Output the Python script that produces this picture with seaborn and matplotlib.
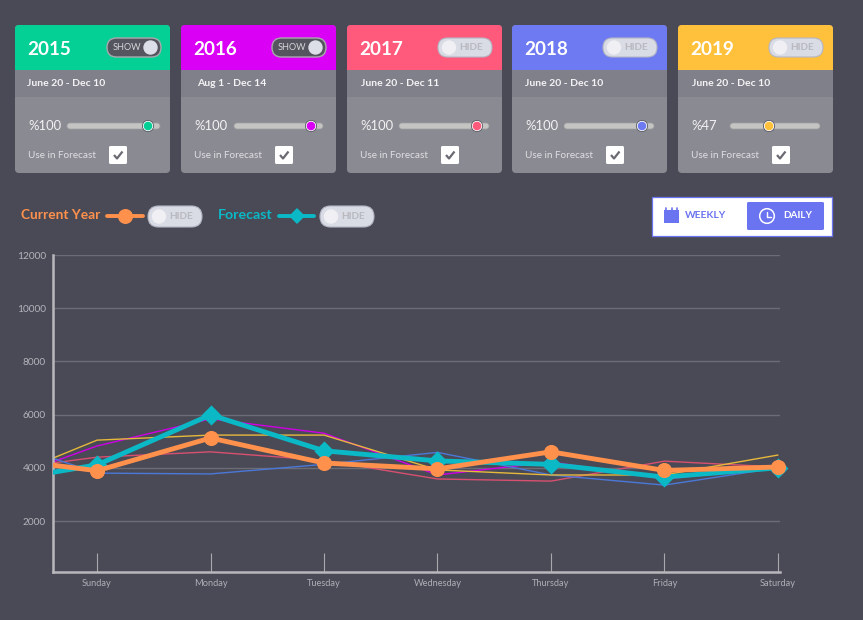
import matplotlib
matplotlib.use("Agg")
import pandas as pd
import seaborn as sns
import matplotlib.pyplot as plt
from matplotlib.patches import FancyBboxPatch, Rectangle, Circle

BG = "#4a4a56"
sns.set_theme(style="dark")
plt.rcParams["font.family"] = ["Lato", "DejaVu Sans"]

# ---------------------------------------------------------------------------
# DATA (first value of each line sits on the y axis, before Sunday)
# ---------------------------------------------------------------------------
DAYS = ["Sunday", "Monday", "Tuesday", "Wednesday", "Thursday", "Friday", "Saturday"]
LINE_POS = [-0.39, 0, 1, 2, 3, 4, 5, 6]

Y2016 = [4220, 4820, 5840, 5300, 3730, 4220, 3580, 4000]
Y2017 = [4180, 4400, 4600, 4280, 3580, 3500, 4250, 4030]
Y2018 = [4360, 3800, 3770, 4130, 4580, 3730, 3350, 4000]
Y2019 = [4360, 5040, 5230, 5230, 3920, 3730, 3730, 4480]
CURRENT = [4100, 3890, 5120, 4180, 3960, 4600, 3900, 4030]
FORECAST = [3830, 4110, 5990, 4640, 4260, 4130, 3650, 4000]

YEAR_TICKS = [2000, 4000, 6000, 8000, 10000, 12000]

YEARS = ["2015", "2016", "2017", "2018", "2019"]
CARD_COLORS = ["#04d096", "#d900f5", "#ff5a7c", "#6e7af2", "#ffc13b"]
CARD_DATES = ["June 20 - Dec 10", "Aug 1 - Dec 14", "June 20 - Dec 11", "June 20 - Dec 10", "June 20 - Dec 10"]
CARD_PCT = ["%100", "%100", "%100", "%100", "%47"]
CARD_TOGGLE = ["SHOW", "SHOW", "HIDE", "HIDE", "HIDE"]

LINE_COLORS = {"2016": "#cf00e6", "2017": "#d8506f", "2018": "#4a78d8", "2019": "#e6b83c"}
ORANGE = "#ff914d"
TEAL = "#0bb8c6"

# ---------------------------------------------------------------------------
# CHART
# ---------------------------------------------------------------------------
fig = plt.figure(figsize=(8.63, 6.2), dpi=100, facecolor=BG)
ax = fig.add_axes([53 / 863, 1 - 572 / 620, (780 - 53) / 863, (572 - 255) / 620])
ax.set_facecolor(BG)

thin = pd.DataFrame({"pos": LINE_POS * 4,
                     "value": Y2016 + Y2017 + Y2018 + Y2019,
                     "series": ["2016"] * 8 + ["2017"] * 8 + ["2018"] * 8 + ["2019"] * 8})
sns.lineplot(data=thin, x="pos", y="value", hue="series", palette=LINE_COLORS,
             linewidth=1.0, legend=False, ax=ax)

sns.lineplot(x=LINE_POS, y=FORECAST, color=TEAL, linewidth=3.5, ax=ax, zorder=4)
sns.scatterplot(x=LINE_POS[1:], y=FORECAST[1:], color=TEAL, marker="D", s=105,
                linewidth=0, ax=ax, zorder=5, clip_on=False)
sns.lineplot(x=LINE_POS, y=CURRENT, color=ORANGE, linewidth=3.5, ax=ax, zorder=6)
sns.scatterplot(x=LINE_POS[1:], y=CURRENT[1:], color=ORANGE, marker="o", s=118,
                linewidth=0, ax=ax, zorder=7, clip_on=False)

ax.set_xlim(-0.388, 6.018)
ax.set_ylim(83, 12000)
ax.set_xlabel("")
ax.set_ylabel("")
ax.set_xticks(range(7))
ax.set_xticklabels(DAYS)
ax.set_yticks(YEAR_TICKS)
ax.grid(False)
ax.grid(True, axis="y", color="#6c6c76", linewidth=1.0)
ax.set_axisbelow(True)
ax.tick_params(axis="x", direction="in", length=14, width=0.8, color="#a8a8ae",
               labelsize=6.7, labelcolor="#aeaeb6", pad=5, bottom=True)
ax.tick_params(axis="y", length=0, labelsize=7.3, labelcolor="#b4b4bc", pad=5)
for side in ["top", "right"]:
    ax.spines[side].set_visible(False)
for side in ["left", "bottom"]:
    ax.spines[side].set_color("#b8b8bc")
    ax.spines[side].set_linewidth(1.8)

# ---------------------------------------------------------------------------
# DASHBOARD WIDGETS, drawn in pixel coordinates on a full-figure axes
# ---------------------------------------------------------------------------
ui = fig.add_axes([0, 0, 1, 1], zorder=10)
ui.set_xlim(0, 863)
ui.set_ylim(620, 0)
ui.axis("off")


def rbox(x0, y0, x1, y1, r, color, edge="none", lw=0.0, z=2):
    p = FancyBboxPatch((x0, y0), x1 - x0, y1 - y0, boxstyle=f"round,pad=0,rounding_size={r}",
                       facecolor=color, edgecolor=edge, linewidth=lw, zorder=z)
    ui.add_patch(p)
    return p


def toggle(x0, y0, x1, y1, label, z=5):
    # knob on the right means "SHOW", knob on the left means "HIDE"
    yc = (y0 + y1) / 2
    if label == "SHOW":
        rbox(x0, y0, x1, y1, (y1 - y0) / 2, "#55555f", edge="#a9a9ae", lw=1.0, z=z)
        ui.add_patch(Circle((x1 - 10.5, yc), 6.5, color="#dcdee8", zorder=z + 1))
        ui.text(x0 + 20, yc, label, color="#d6d6da", fontsize=6.6, ha="center", va="center", zorder=z + 1)
    else:
        rbox(x0, y0, x1, y1, (y1 - y0) / 2, "#d9dbe5", edge="#b4b6c4", lw=0.8, z=z)
        ui.add_patch(Circle((x0 + 11, yc), 6.5, color="#f0f0f4", zorder=z + 1))
        ui.text(x0 + 33, yc, label, color="#b9b9c0", fontsize=7.2, fontweight="bold",
                ha="center", va="center", zorder=z + 1)


CARD_X = [15, 181, 347, 512, 678]
DATE_X = [27, 197, 361, 525, 692]
TRACK_X = [(67, 160), (234, 323), (399, 489), (564, 654), (730, 820)]
KNOB_X = [148, 311, 477, 642, 769]
CHECK_X = [109, 275, 441, 606, 772]
TOGGLE_X = [107, 272, 438, 603, 769]

for i, year in enumerate(YEARS):
    x0 = CARD_X[i]
    x1 = x0 + 155
    card = rbox(x0, 25, x1, 173, 4, "#8a8a92")
    for y0, y1, col in [(25, 70, CARD_COLORS[i]), (70, 97, "#80808a")]:
        band = Rectangle((x0, y0), 156, y1 - y0, facecolor=col, edgecolor="none", zorder=3)
        ui.add_patch(band)
        band.set_clip_path(card)

    ui.text(x0 + 12, 49.5, year, color="white", fontsize=13.6, fontweight="bold", ha="left", va="center", zorder=4)
    toggle(TOGGLE_X[i], 38, TOGGLE_X[i] + 54, 57, CARD_TOGGLE[i])
    ui.text(DATE_X[i], 83.5, CARD_DATES[i], color="#f4f4f6", fontsize=7.5, fontweight="bold",
            ha="left", va="center", zorder=4)

    ui.text(x0 + 13, 126, CARD_PCT[i], color="#f2f2f4", fontsize=9.4, ha="left", va="center", zorder=4)
    tx0, tx1 = TRACK_X[i]
    rbox(tx0, 123, tx1, 129, 3, "#c4c4c2", edge="#a0a0a4", lw=0.5, z=4)
    ui.add_patch(Circle((KNOB_X[i], 126), 5.6, color="white", ec="#55555f", lw=0.6, zorder=5))
    ui.add_patch(Circle((KNOB_X[i], 126), 3.6, color=CARD_COLORS[i], zorder=6))

    ui.text(x0 + 13, 155, "Use in Forecast", color="#dedee2", fontsize=7.2, ha="left", va="center", zorder=4)
    cx = CHECK_X[i]
    rbox(cx, 146, cx + 18, 164, 1.5, "white", z=4)
    ui.plot([cx + 5, cx + 8, cx + 13.5], [155, 158.5, 151.5], color="#6a6a72", lw=1.6, zorder=5,
            solid_capstyle="butt")

# legend row
ui.text(21, 215, "Current Year", color=ORANGE, fontsize=9.9, fontweight="bold", ha="left", va="center")
ui.plot([107, 143], [215.5, 215.5], color=ORANGE, lw=2.8, solid_capstyle="round")
ui.plot([125], [215.5], marker="o", ms=10.8, color=ORANGE, mew=0)
toggle(148, 206, 202, 227, "HIDE")

ui.text(218, 215, "Forecast", color=TEAL, fontsize=10.2, fontweight="bold", ha="left", va="center")
ui.plot([279, 314], [215.5, 215.5], color=TEAL, lw=2.8, solid_capstyle="round")
ui.plot([297], [215.5], marker="D", ms=8.2, color=TEAL, mew=0)
toggle(320, 206, 374, 227, "HIDE")

# weekly / daily switch
BLUE = "#6b74f0"
ui.add_patch(Rectangle((651.5, 196.5), 180, 39, facecolor="white", edgecolor=BLUE, linewidth=0.9, zorder=2))
ui.add_patch(Rectangle((664, 210), 15, 13, facecolor=BLUE, edgecolor="none", zorder=3))
for px in [666, 671.5, 677]:
    ui.plot([px, px], [207.5, 211], color=BLUE, lw=1.2, zorder=3)
ui.text(685, 216, "WEEKLY", color=BLUE, fontsize=7.3, fontweight="bold", ha="left", va="center", zorder=3)
rbox(747, 202, 824, 230, 1.5, BLUE, z=3)
ui.add_patch(Circle((767, 216), 7.3, facecolor="none", edgecolor="white", linewidth=1.1, zorder=4))
ui.plot([767, 767, 771], [211.5, 216.5, 216.5], color="white", lw=1.0, zorder=4)
ui.text(783, 216, "DAILY", color="white", fontsize=7.2, fontweight="bold", ha="left", va="center", zorder=4)

fig.savefig("out.png", dpi=100, facecolor=BG)
